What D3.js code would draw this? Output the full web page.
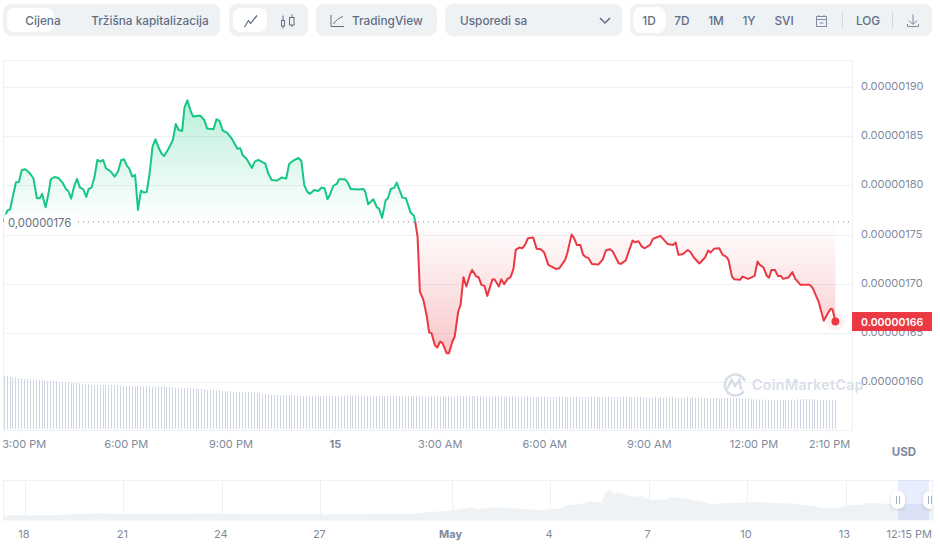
<!DOCTYPE html>
<html>
<head>
<meta charset="utf-8">
<style>
	body { margin: 0; background: #fff; }
	svg { display: block; font-family: Inter, "Noto Sans", sans-serif; }
</style>
<script src="https://cdn.jsdelivr.net/npm/d3@7"></script>
</head>
<body>
<svg id="chart" width="940" height="552"></svg>
<script>
// minutes from midnight May 15, price in units of 0.00000001
const minutes = [-570, -564, -559, -555, -549, -544, -539, -533, -526, -519, -513, -508, -504, -498, -493, -489, -483, -476, -469, -463, -459, -454, -449, -444, -439, -433, -428, -424, -419, -414, -409, -404, -399, -394, -387, -379, -373, -368, -363, -358, -354, -349, -344, -339, -334, -329, -324, -319, -314, -309, -303, -298, -294, -287, -279, -274, -269, -263, -259, -254, -248, -244, -232, -225, -220, -209, -204, -199, -193, -186, -178, -168, -163,
	-159, -152, -143, -138, -132, -120, -115, -109, -100, -92, -84, -79, -72, -63, -58, -53, -48, -43, -36, -29, -23, -18, -13, -9, -3, 3, 7, 17, 21, 27, 40, 49, 52, 57, 66, 72, 76, 81, 87, 91, 96, 102, 106, 112, 116, 122, 130, 136, 138,
	142, 144, 146, 152, 158, 162, 166, 172, 176, 181, 185, 192, 196, 202, 206, 212, 216, 221, 226, 232,
	236, 243, 247, 252, 257, 262, 271, 275, 282, 286, 291, 297, 302, 307, 311, 317, 322, 327, 332, 341, 347, 354, 360, 367, 380, 386, 396, 400, 407, 411, 416, 422, 427, 432, 436, 442, 453, 461, 466, 473, 478, 488, 492, 500, 512, 516, 522, 528, 533, 542,
	547, 553, 560, 566, 572, 582, 586, 591, 598, 607, 612, 617, 627, 637, 642, 646, 652, 661, 667, 673, 677, 683, 687, 697, 701, 711, 722, 727, 731, 737, 743, 747, 751, 757, 762, 767, 771, 780, 787, 792, 801, 817, 822, 832, 841, 849, 853, 856, 861];

const prices = [176.31, 177.43, 177.57, 178.69, 180.31, 180.35, 181.57, 181.63, 181.29, 180.72, 178.69, 178.69, 179.13, 177.77, 179.19, 180.62, 180.85, 180.75, 180.28, 179.63, 179.43, 178.65, 179.87, 180.65, 179.8, 179.6, 178.82, 179.63, 179.77, 180.79, 182.58, 182.41, 182.58, 181.73, 181.46, 180.89, 181.46, 182.55, 182.65, 181.97, 181.7, 180.89, 181.06, 177.5, 179.46, 179.26, 179.33, 181.23, 183.94, 184.68, 183.77, 183.19, 182.99, 183.67, 184.61, 186.24, 185.63, 185.53, 187.93, 188.64, 187.49, 186.99, 187.09, 186.65, 185.77, 185.7, 186.71, 186.58, 185.56, 185.36, 184.78, 183.73, 183.77,
	183.09, 182.68, 181.77, 182.41, 182.58, 182.21, 181.23, 180.55, 180.48, 180.79, 180.68, 182.17, 182.51, 182.78, 182.51, 180.04, 179.36, 179.13, 179.53, 179.43, 179.77, 179.7, 178.58, 179.02, 179.94, 180.14, 180.62, 180.62, 180.38, 179.63, 179.57, 179.63, 179.36, 178.08, 178.58, 177.77, 177.6, 176.69, 178.45, 178.69, 179.63, 179.77, 180.28, 179.36, 178.75, 178.69, 177.23, 176.89, 176.31,
	174.79, 172.08, 169.2, 168.35, 166.66, 165.03, 164.97, 163.71, 163.51, 164.12, 163.95, 162.93, 162.93, 164.12, 164.63, 167.17, 167.85, 170.66, 169.71, 170.89,
	171.4, 170.72, 170.66, 169.88, 169.78, 168.76, 170.45, 170.39, 169.71, 170.45, 169.95, 170.49, 170.66, 171.47, 173.43, 173.67, 173.6, 173.94, 174.62, 174.69, 173.54, 173.5, 173.16, 171.91, 171.5, 171.57, 172.42, 173.16, 174.99, 174.69, 173.94, 173.94, 172.93, 172.69, 172.62, 172.01, 171.94, 172.49, 173.37, 173.5, 173.27, 172.08, 172.01, 172.35, 174.38, 174.21, 174.32, 173.77, 173.6, 173.94,
	174.55, 174.69, 174.86, 174.45, 174.04, 173.94, 174.18, 172.93, 173, 173.43, 173.2, 172.69, 172.05, 172.69, 173.37, 173.16, 173.54, 173.6, 172.93, 172.76, 172.42, 170.72, 170.45, 170.39, 170.72, 170.49, 170.79, 172.25, 171.91, 171.67, 170.79, 170.62, 171.4, 171.4, 170.79, 170.79, 170.49, 170.62, 171.17, 170.49, 169.88, 169.88, 169.54, 168.18, 166.22, 167.1, 167.44, 167.4, 166.15];

// one bar every 5 minutes from -570
const volumes = [53, 53, 52.5, 52, 51.5, 51, 50.5, 50, 50, 49.5,
	49.5, 49, 49, 49, 48.5, 48, 48, 48, 47.5, 47,
	47, 46.5, 46.5, 46, 46, 45.5, 45.5, 45, 45, 45,
	44, 44, 44, 44, 44, 44, 44, 44, 44, 44,
	43.5, 43, 43, 43, 43, 43, 43, 43, 43, 43,
	43, 42.5, 42.5, 42.5, 42.5, 42.5, 42, 42, 42, 41,
	41, 41, 41, 41, 41, 40.5, 40.5, 40, 40, 40,
	39, 39, 39, 38.5, 38.5, 38, 38, 37.5, 37.5, 37,
	37, 37, 37, 37, 37, 37, 37, 36.5, 35.5, 35,
	35, 34.5, 34.5, 34, 34, 34, 34, 34, 34, 33.5,
	33.5, 33, 33, 33, 33.5, 33.5, 33.5, 33, 33, 33,
	33, 33, 33, 33, 33, 33, 33.5, 33.5, 33.5, 33.5,
	33.5, 33.5, 33.5, 33.5, 33, 33, 33, 33, 33, 33,
	33, 33, 33, 33, 33, 33, 33, 33, 33, 33,
	33, 33, 33, 32.5, 32.5, 32.5, 32.5, 32.5, 32.5, 32.5,
	32.5, 32.5, 32.5, 32.5, 32.5, 32.5, 33, 33, 33, 33,
	33, 33, 33, 33, 32.5, 32.5, 32.5, 32.5, 32.5, 32.5,
	32.5, 32.5, 32.5, 32.5, 32.5, 32.5, 32.5, 32.5, 32.5, 32.5,
	32.5, 32, 32, 32, 32, 32, 32, 32, 32, 32,
	32, 32, 32, 32, 32, 32, 32, 32, 32, 32,
	32, 32, 32, 32, 32, 32, 32, 32, 32, 32,
	32, 32, 32, 32, 32, 32, 32, 32, 32, 32,
	31.5, 31.5, 31.5, 31.5, 31.5, 31.5, 31.5, 31.5, 31.5, 31.5,
	31.5, 31.5, 31.5, 31.5, 31.5, 31.5, 31.5, 31.5, 31.5, 31,
	31, 31, 31, 31, 31, 31, 30.5, 30.5, 31, 31,
	31, 31, 31, 31, 30.5, 30.5, 30.5, 30, 29.5, 29.5,
	29.5, 29.5, 29.5, 29, 29, 29, 29, 29, 29, 29,
	29, 29, 29, 30, 30, 30, 30, 30, 30, 29.5,
	29, 29, 29, 29, 29, 29, 29];

const priceTicks = [190, 185, 180, 175, 170, 165, 160];
const timeTicks = [-540, -360, -180, 0, 180, 360, 540, 720, 850];
const timeLabels = ["3:00 PM", "6:00 PM", "9:00 PM", "15", "3:00 AM", "6:00 AM", "9:00 AM", "12:00 PM", "2:10 PM"];
const openPrice = 176.28;
const lastPrice = 166.15;

// overview chart, days from Apr 18
const navDays = [-0.67, 0, 0.76, 1.37, 2.2, 3.3, 4.73, 5.56, 6.56, 9, 10.53, 11.76, 12.46, 13.04, 13.59, 13.79, 14.3, 14.91, 15.62, 16.34, 16.54, 16.95, 17.2, 17.56, 17.66, 17.81, 17.92, 18.12, 18.27, 18.57, 18.78, 19.03, 19.54, 19.69, 20.1, 20.71, 20.92, 21.63, 22.24, 23.15, 23.76, 24.38, 24.89, 25.09, 25.5, 25.65, 26.41, 27.69];
const navLevels = [4.7, 4.7, 4.8, 5.8, 6.7, 5.7, 6, 6.7, 5.8, 5.7, 5.7, 6.3, 8.3, 9.5, 12.7, 10.7, 12.7, 11.7, 10, 11.7, 15, 15.7, 19, 17.3, 25, 31, 26.7, 27.3, 25, 23.3, 24, 20, 20.7, 23, 21.7, 17.7, 16, 17.3, 17.7, 16.7, 15, 11.7, 12.7, 15, 15, 17.3, 16, 16];
const navTicks = [0, 3, 6, 9, 13, 16, 19, 22, 25];
const navLabels = ["18", "21", "24", "27", "May", "4", "7", "10", "13"];

const rangeLabels = ["1D", "7D", "1M", "1Y", "SVI"];
const rangeCenters = [649, 682, 716, 749, 784];

const grey = "#808a9d";
const toolbarText = "#616e85";
const panel = "#eff2f5";
const green = "#16c784";
const red = "#ea3943";

const svg = d3.select("#chart");

// toolbar
function panelRect(x, w, fill, y = 4, h = 32, r = 8) {
	return svg.append("rect").attr("x", x).attr("y", y).attr("width", w).attr("height", h).attr("rx", r).attr("fill", fill);
}

function toolbarLabel(x, label, anchor = "middle", color = toolbarText) {
	return svg.append("text").attr("x", x).attr("y", 24.5).attr("text-anchor", anchor)
		.attr("font-size", 11.8).attr("font-weight", 500).attr("fill", color).text(label);
}

function icon(d, stroke = toolbarText) {
	return svg.append("path").attr("d", d).attr("fill", "none").attr("stroke", stroke).attr("stroke-width", 1);
}

panelRect(3, 217, panel);
panelRect(7, 47, "#fff", 8, 24);
toolbarLabel(43, "Cijena");
toolbarLabel(150, "Tržišna kapitalizacija");

panelRect(229, 79, panel);
panelRect(233, 34, "#fff", 8, 24);
icon("M244.5 27 L248.5 20.5 L250.5 23.5 L257 15.5").attr("stroke-width", 1.2);
icon("M283 15.5 V28.5 M292 14.5 V27");
svg.append("rect").attr("x", 281.5).attr("y", 20.5).attr("width", 3).attr("height", 5.5).attr("fill", panel).attr("stroke", toolbarText);
svg.append("rect").attr("x", 289.5).attr("y", 17.5).attr("width", 4.5).attr("height", 7.5).attr("fill", panel).attr("stroke", toolbarText);

panelRect(316, 121, panel);
icon("M331 15 V26.5 H344 M333.5 24 C336 20 339 18 343 16.5");
toolbarLabel(352, "TradingView", "start");

panelRect(445, 177, panel);
toolbarLabel(460, "Usporedi sa", "start");
icon("M600 18 L605 23 L610 18").attr("stroke-width", 1.5);

panelRect(630, 302, panel);
panelRect(633.5, 32, "#fff", 7, 26);
rangeLabels.forEach((label, i) => toolbarLabel(rangeCenters[i], label));
icon("M816.5 16.5 H826.5 V26.5 H816.5 Z M816.5 19.5 H826.5 M819 15 V17 M824 15 V17 M819.5 23 H823.5", grey);
svg.append("path").attr("d", "M842.5 12 V28 M892.5 12 V28").attr("stroke", "#cfd6e4");
toolbarLabel(868, "LOG");
icon("M913 14.5 V24 M909 20.5 L913 24.5 L917 20.5 M907.5 24 V26.5 H918.5 V24", grey);

// main chart
const x = d3.scaleLinear().domain([-570, 861]).range([3.75, 835.4]);
const y = d3.scaleLinear().domain([160, 190]).range([382, 87]);
const plot = { left: 3, right: 852, top: 60, bottom: 430 };

const defs = svg.append("defs");

defs.append("clipPath").attr("id", "above")
	.append("rect").attr("x", plot.left).attr("y", plot.top)
	.attr("width", plot.right - plot.left).attr("height", y(openPrice) - plot.top);
defs.append("clipPath").attr("id", "below")
	.append("rect").attr("x", plot.left).attr("y", y(openPrice))
	.attr("width", plot.right - plot.left).attr("height", plot.bottom - y(openPrice));

const greenFade = defs.append("linearGradient").attr("id", "greenFade")
	.attr("gradientUnits", "userSpaceOnUse").attr("x1", 0).attr("x2", 0)
	.attr("y1", y(189)).attr("y2", y(openPrice));
greenFade.append("stop").attr("offset", 0).attr("stop-color", green).attr("stop-opacity", 0.3);
greenFade.append("stop").attr("offset", 1).attr("stop-color", green).attr("stop-opacity", 0);

const redFade = defs.append("linearGradient").attr("id", "redFade")
	.attr("gradientUnits", "userSpaceOnUse").attr("x1", 0).attr("x2", 0)
	.attr("y1", y(openPrice)).attr("y2", y(163));
redFade.append("stop").attr("offset", 0).attr("stop-color", red).attr("stop-opacity", 0);
redFade.append("stop").attr("offset", 1).attr("stop-color", red).attr("stop-opacity", 0.28);

svg.append("rect").attr("x", plot.left + 0.5).attr("y", plot.top + 0.5)
	.attr("width", plot.right - plot.left).attr("height", plot.bottom - plot.top)
	.attr("fill", "none").attr("stroke", panel);

svg.append("g").selectAll("line").data(priceTicks).enter().append("line")
	.attr("x1", plot.left).attr("x2", plot.right)
	.attr("y1", d => Math.round(y(d)) + 0.5).attr("y2", d => Math.round(y(d)) + 0.5)
	.attr("stroke", panel);

// volume bars
const volumeY = d3.scaleLinear().domain([0, 53]).range([429, 376]);

svg.append("g").selectAll("rect").data(volumes).enter().append("rect")
	.attr("x", (d, i) => Math.round(x(-570 + i * 5)))
	.attr("y", d => volumeY(d))
	.attr("width", 1)
	.attr("height", d => volumeY(0) - volumeY(d))
	.attr("fill", "#cfd6e4");

const points = minutes.map((m, i) => [m, prices[i]]);

const area = d3.area().x(d => x(d[0])).y0(y(openPrice)).y1(d => y(d[1]));
const line = d3.line().x(d => x(d[0])).y(d => y(d[1]));

svg.append("path").datum(points).attr("d", area).attr("fill", "url(#greenFade)").attr("clip-path", "url(#above)");
svg.append("path").datum(points).attr("d", area).attr("fill", "url(#redFade)").attr("clip-path", "url(#below)");
svg.append("path").datum(points).attr("d", line).attr("fill", "none").attr("stroke", green).attr("stroke-width", 2).attr("stroke-linejoin", "round").attr("clip-path", "url(#above)");
svg.append("path").datum(points).attr("d", line).attr("fill", "none").attr("stroke", red).attr("stroke-width", 2).attr("stroke-linejoin", "round").attr("clip-path", "url(#below)");

// open price marker
svg.append("line")
	.attr("x1", 78).attr("x2", plot.right)
	.attr("y1", y(openPrice)).attr("y2", y(openPrice))
	.attr("stroke", grey).attr("stroke-dasharray", "1 4");
svg.append("rect").attr("x", 4).attr("y", y(openPrice) - 8).attr("width", 72).attr("height", 18).attr("rx", 4).attr("fill", "#fff");
svg.append("text").attr("x", 8).attr("y", y(openPrice) + 5.5)
	.attr("font-size", 11.3).attr("fill", toolbarText)
	.text("0,00000176");

// axes
const xAxis = svg.append("g")
	.attr("transform", `translate(0,${plot.bottom})`)
	.call(d3.axisBottom(x).tickValues(timeTicks).tickSize(4).tickPadding(6).tickFormat((d, i) => timeLabels[i]));
xAxis.select(".domain").attr("stroke", panel);
xAxis.selectAll("line").attr("stroke", panel);
xAxis.selectAll("text").attr("fill", grey).attr("font-size", 11).attr("font-family", "Inter")
	.attr("font-weight", d => d === 0 ? 700 : 400);
// first label is pushed in from the left edge
xAxis.selectAll("text").filter(d => d === -540).attr("dx", 2.5);

const yAxis = svg.append("g")
	.attr("transform", `translate(${plot.right},0)`)
	.call(d3.axisRight(y).tickValues(priceTicks).tickSize(0).tickPadding(9).tickFormat(d => (d / 1e8).toFixed(8)));
yAxis.select(".domain").remove();
yAxis.selectAll("text").attr("fill", grey).attr("font-size", 11).attr("font-family", "Inter").attr("y", -1);

svg.append("line").attr("x1", plot.right + 0.5).attr("x2", plot.right + 0.5).attr("y1", plot.top).attr("y2", plot.bottom).attr("stroke", panel);

svg.append("text").attr("x", 904).attr("y", 456).attr("text-anchor", "middle")
	.attr("font-size", 11.5).attr("font-weight", 700).attr("fill", grey).text("USD");

// last price
svg.append("circle").attr("cx", x(861)).attr("cy", y(lastPrice)).attr("r", 9).attr("fill", red).attr("opacity", 0.07);
svg.append("circle").attr("cx", x(861)).attr("cy", y(lastPrice)).attr("r", 4).attr("fill", red);
svg.append("rect").attr("x", 852).attr("y", y(lastPrice) - 9.5).attr("width", 80).attr("height", 19).attr("fill", red);
svg.append("text").attr("x", 861).attr("y", y(lastPrice) + 4)
	.attr("font-size", 10.5).attr("font-weight", 600).attr("fill", "#fff")
	.text((lastPrice / 1e8).toFixed(8));

// watermark
const mark = svg.append("g").attr("fill", "none").attr("stroke", "#cfd6e4").attr("stroke-width", 2.5).attr("opacity", 0.8);
mark.append("path").attr("d", "M744 391 A10.5 10.5 0 1 1 745 381");
mark.append("path").attr("d", "M727 389 L731.5 380 L735 386 L739.5 380 L741 390");
svg.append("text").attr("x", 752).attr("y", 390)
	.attr("font-size", 14.3).attr("font-weight", 700).attr("letter-spacing", 0.2).attr("fill", "#d5dbe6").attr("opacity", 0.85)
	.text("CoinMarketCap");

// overview
const navX = d3.scaleLinear().domain([0, 25]).range([25, 845.5]);
const navY = d3.scaleLinear().domain([0, 40]).range([520, 480]);

svg.append("rect").attr("x", plot.left + 0.5).attr("y", 480.5).attr("width", 929).attr("height", 39.5).attr("fill", "none").attr("stroke", panel);

svg.append("g").selectAll("line").data(navTicks).enter().append("line")
	.attr("x1", d => Math.round(navX(d)) + 0.5).attr("x2", d => Math.round(navX(d)) + 0.5)
	.attr("y1", 480).attr("y2", 520)
	.attr("stroke", panel);

const navArea = d3.area().x(d => navX(d[0])).y0(navY(0)).y1(d => navY(d[1]));

svg.append("path").datum(navDays.map((d, i) => [d, navLevels[i]]))
	.attr("d", navArea).attr("fill", panel);

svg.append("g").selectAll("text").data(navTicks).enter().append("text")
	.attr("x", d => navX(d) - 1).attr("y", 538)
	.attr("text-anchor", "middle").attr("font-size", 11).attr("fill", grey)
	.attr("font-weight", (d, i) => navLabels[i] === "May" ? 700 : 400)
	.text((d, i) => navLabels[i]);
svg.append("text").attr("x", 932).attr("y", 538).attr("text-anchor", "end")
	.attr("font-size", 11).attr("fill", grey).text("12:15 PM");

svg.append("rect").attr("x", 898).attr("y", 480).attr("width", 31).attr("height", 40).attr("fill", "#6188ff").attr("opacity", 0.14);

defs.append("clipPath").attr("id", "pageEdge").append("rect").attr("x", 0).attr("y", 470).attr("width", 932).attr("height", 60);
defs.append("filter").attr("id", "handleShadow")
	.append("feDropShadow").attr("dx", 0).attr("dy", 1).attr("stdDeviation", 2).attr("flood-opacity", 0.15);

const handles = svg.append("g").attr("clip-path", "url(#pageEdge)");
[898, 930].forEach(cx => {
	handles.append("rect").attr("x", cx - 7).attr("y", 491).attr("width", 14).attr("height", 18).attr("rx", 7)
		.attr("fill", "#fff").attr("filter", "url(#handleShadow)");
	handles.append("path").attr("d", `M${cx - 1.5} 496 V504 M${cx + 1.5} 496 V504`).attr("stroke", "#a6b0c3");
});
</script>
</body>
</html>
